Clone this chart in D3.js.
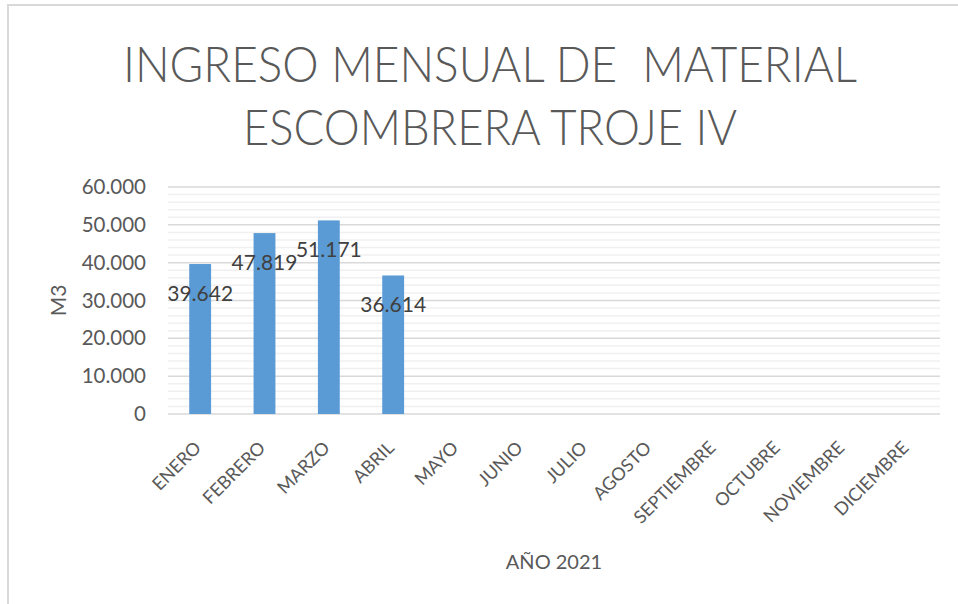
<!DOCTYPE html>
<html><head><meta charset="utf-8">
<script src="https://cdn.jsdelivr.net/npm/d3@7"></script>
<style>body{margin:0;background:#fff;} svg{display:block;}</style>
</head><body>
<script>
const categories = ["ENERO","FEBRERO","MARZO","ABRIL","MAYO","JUNIO","JULIO","AGOSTO","SEPTIEMBRE","OCTUBRE","NOVIEMBRE","DICIEMBRE"];
const values = [39642, 47819, 51171, 36614, null, null, null, null, null, null, null, null];
const yTicks = [0, 10000, 20000, 30000, 40000, 50000, 60000];
const yTickLabels = ["0","10.000","20.000","30.000","40.000","50.000","60.000"];
const titleLines = ["INGRESO MENSUAL DE  MATERIAL", "ESCOMBRERA TROJE IV"];
const xTitle = "AÑO 2021";
const yTitle = "M3";

const W = 958, H = 604;
const svg = d3.select("body").append("svg").attr("width", W).attr("height", H);
const font = "Lato, 'Open Sans', sans-serif";

// chart border
svg.append("path").attr("d", `M8,${H} L8,5 L${W},5`).attr("fill","none").attr("stroke","#d9d9d9").attr("stroke-width",2);

const x0 = 168, x1 = 940, yTop = 187, yBot = 414;
const x = d3.scaleBand().domain(categories).range([x0, x1]).paddingInner(0.66).paddingOuter(0.33);
const y = d3.scaleLinear().domain([0, 60000]).range([yBot, yTop]);

// minor grid
const minor = d3.range(0, 60001, 2000).filter(v => v % 10000 !== 0);
svg.append("g").selectAll("line").data(minor).join("line")
  .attr("x1", x0).attr("x2", x1).attr("y1", d => y(d)).attr("y2", d => y(d))
  .attr("stroke", "#f0f0f0").attr("stroke-width", 1.5);
// major grid
svg.append("g").selectAll("line").data(yTicks).join("line")
  .attr("x1", x0).attr("x2", x1).attr("y1", d => y(d)).attr("y2", d => y(d))
  .attr("stroke", "#d9d9d9").attr("stroke-width", 1.5);

// y axis labels
const yAxis = d3.axisLeft(y).tickValues(yTicks).tickFormat((d,i) => yTickLabels[i]).tickSize(0).tickPadding(22);
const gy = svg.append("g").attr("transform", `translate(${x0},0)`).call(yAxis);
gy.select(".domain").remove();
gy.selectAll("text").attr("font-family", font).attr("font-size", 20.5).attr("fill", "#595959");

// x axis labels
const xAxis = d3.axisBottom(x).tickSize(0).tickPadding(0);
const gx = svg.append("g").attr("transform", `translate(0,${yBot})`).call(xAxis);
gx.select(".domain").remove();
gx.selectAll("text")
  .attr("font-family", font).attr("font-size", 18).attr("fill", "#595959")
  .attr("text-anchor", "end")
  .attr("dy", null)
  .attr("y", 0)
  .attr("transform", "translate(2,35) rotate(-45)");

// bars
const data = categories.map((c,i) => ({c, v: values[i]})).filter(d => d.v != null);
svg.append("g").selectAll("rect").data(data).join("rect")
  .attr("x", d => x(d.c)).attr("width", x.bandwidth())
  .attr("y", d => y(d.v)).attr("height", d => yBot - y(d.v))
  .attr("fill", "#5b9bd5");

// data labels
const fmt = v => d3.format(",")(v).replace(/,/g, ".");
svg.append("g").selectAll("text").data(data).join("text")
  .attr("x", d => x(d.c) + x.bandwidth()/2)
  .attr("y", d => y(d.v) + 37)
  .attr("text-anchor", "middle")
  .attr("font-family", font).attr("font-size", 21).attr("fill", "#404040")
  .text(d => fmt(d.v));

// title
const titleWidths = [734, 494];
svg.append("g").selectAll("text").data(titleLines).join("text")
  .attr("x", 490).attr("y", (d,i) => 82 + i*63)
  .attr("text-anchor", "middle")
  .attr("font-family", font).attr("font-weight", 300).attr("font-size", 50).attr("fill", "#595959")
  .attr("style", "white-space:pre")
  .attr("textLength", (d,i) => titleWidths[i]).attr("lengthAdjust", "spacingAndGlyphs")
  .text(d => d);

// axis titles
svg.append("text").attr("x", (x0+x1)/2).attr("y", 569).attr("text-anchor","middle")
  .attr("font-family", font).attr("font-size", 20).attr("fill", "#595959").text(xTitle);
svg.append("text").attr("transform", `translate(66,${(yTop+yBot)/2}) rotate(-90)`).attr("text-anchor","middle")
  .attr("font-family", font).attr("font-size", 21).attr("fill", "#595959").text(yTitle);
</script>
</body></html>
